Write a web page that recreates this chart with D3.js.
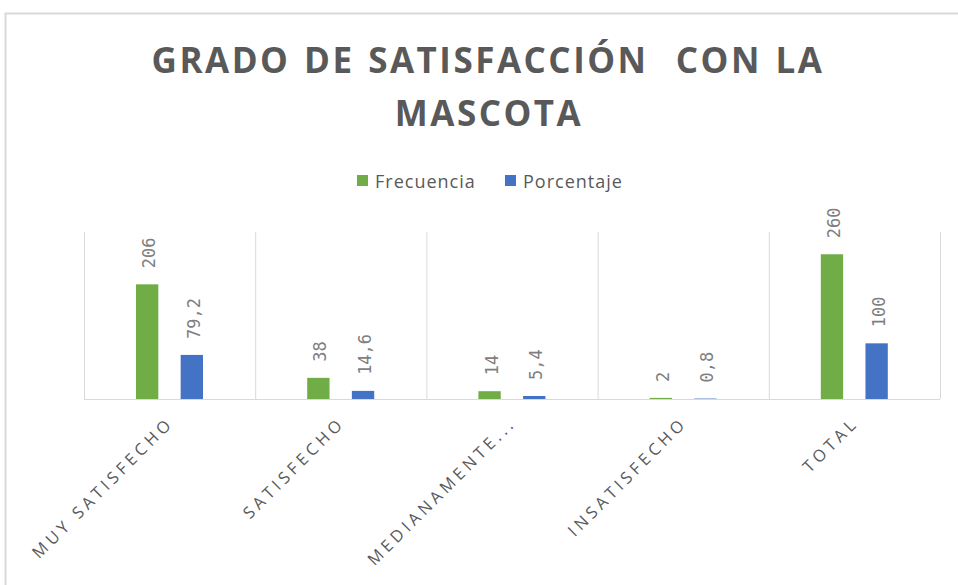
<!DOCTYPE html>
<html>
<head>
<meta charset="utf-8">
<script src="https://cdn.jsdelivr.net/npm/d3@7"></script>
<style>
  body { margin: 0; background: #fff; }
  svg { display: block; }
</style>
</head>
<body>
<svg width="958" height="585"></svg>
<script>
const categories = ["MUY SATISFECHO", "SATISFECHO", "MEDIANAMENTE...", "INSATISFECHO", "TOTAL"];
const series = ["Frecuencia", "Porcentaje"];
const frecuencia = [206, 38, 14, 2, 260];
const porcentaje = [79.2, 14.6, 5.4, 0.8, 100];
const colors = ["#70ad47", "#4472c4"];

const data = categories.map((c, i) => ({ cat: c, values: [frecuencia[i], porcentaje[i]] }));

const width = 958, height = 585;
const plot = { left: 84, right: 940, top: 232, bottom: 399 };

const svg = d3.select("svg");

// chart border
svg.append("rect")
  .attr("x", 5.5).attr("y", 13.5)
  .attr("width", 980).attr("height", 600)
  .attr("fill", "none")
  .attr("stroke", "#d9d9d9")
  .attr("stroke-width", 2);

// title
const title = svg.append("text")
  .attr("fill", "#595959")
  .style("font-family", "'Open Sans', sans-serif")
  .style("font-weight", "bold")
  .style("font-size", "35px")
  .style("letter-spacing", "2.5px")
  .style("white-space", "pre")
  .attr("text-anchor", "middle");
title.append("tspan").attr("x", 488).attr("y", 73)
  .style("word-spacing", "2px")
  .text("GRADO DE SATISFACCIÓN  CON LA");
title.append("tspan").attr("x", 489).attr("y", 126)
  .text("MASCOTA");

const x = d3.scaleBand()
  .domain(categories)
  .range([plot.left, plot.right]);

const xs = d3.scaleBand()
  .domain(series)
  .range([52, 119])
  .paddingInner(0.5);

const y = d3.scaleLinear()
  .domain([0, 300])
  .range([plot.bottom, plot.top]);

// vertical gridlines at category boundaries
const bounds = categories.map(c => x(c)).concat([plot.right]);
svg.append("g")
  .selectAll("line")
  .data(bounds)
  .join("line")
  .attr("x1", d => d + 0.5).attr("x2", d => d + 0.5)
  .attr("y1", plot.top).attr("y2", plot.bottom)
  .attr("stroke", "#d9d9d9");

// bars
const groups = svg.append("g")
  .selectAll("g")
  .data(data)
  .join("g")
  .attr("transform", d => `translate(${x(d.cat)},0)`);

groups.selectAll("rect")
  .data(d => d.values.map((v, i) => ({ key: series[i], v, i })))
  .join("rect")
  .attr("x", d => xs(d.key))
  .attr("width", xs.bandwidth())
  .attr("y", d => y(d.v))
  .attr("height", d => y(0) - y(d.v))
  .attr("fill", d => colors[d.i]);

// data labels
const fmt = v => String(v).replace(".", ",");
groups.selectAll("text")
  .data(d => d.values.map((v, i) => ({ key: series[i], v, i })))
  .join("text")
  .attr("transform", d => `translate(${xs(d.key) + xs.bandwidth() / 2 + 8},${y(d.v) - 16}) rotate(-90)`)
  .attr("fill", "#7f7f7f")
  .style("font-family", "'DejaVu Sans Mono', monospace")
  .style("font-size", "17px")
  .text(d => fmt(d.v));

// x axis line
svg.append("line")
  .attr("x1", plot.left).attr("x2", plot.right)
  .attr("y1", plot.bottom + 0.5).attr("y2", plot.bottom + 0.5)
  .attr("stroke", "#d9d9d9");

// category labels
svg.append("g")
  .selectAll("text")
  .data(categories)
  .join("text")
  .attr("transform", d => `translate(${x(d) + x.bandwidth() / 2 + 5},424) rotate(-45)`)
  .attr("text-anchor", "end")
  .attr("fill", "#595959")
  .style("font-family", "'Open Sans', sans-serif")
  .style("font-size", "16.5px")
  .style("letter-spacing", "4px")
  .text(d => d);

// legend
const legend = svg.append("g");
const legendX = [357, 505];
series.forEach((s, i) => {
  legend.append("rect")
    .attr("x", legendX[i]).attr("y", 175)
    .attr("width", 11).attr("height", 11)
    .attr("fill", colors[i]);
  legend.append("text")
    .attr("x", legendX[i] + 18).attr("y", 188)
    .attr("fill", "#595959")
    .style("font-family", "'Open Sans', sans-serif")
    .style("font-size", "18px")
    .style("letter-spacing", "1px")
    .text(s);
});
</script>
</body>
</html>
